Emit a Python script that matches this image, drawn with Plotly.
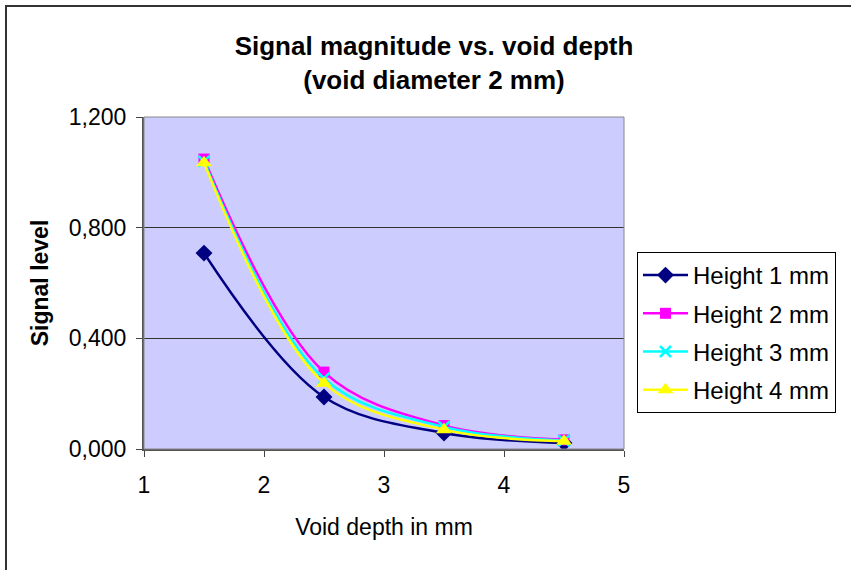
import plotly.graph_objects as go

depth = [1.5, 2.5, 3.5, 4.5]
h1 = [0.708, 0.188, 0.058, 0.022]
h2 = [1.048, 0.278, 0.085, 0.033]
h3 = [1.040, 0.255, 0.080, 0.030]
h4 = [1.035, 0.238, 0.070, 0.028]

series = [
    ("Height 1 mm", h1, "#000080", "diamond", 13),
    ("Height 2 mm", h2, "#ff00ff", "square", 11),
    ("Height 3 mm", h3, "#00ffff", "x-thin", 11),
    ("Height 4 mm", h4, "#ffff00", "triangle-up", 14),
]

fig = go.Figure()
for i, (name, vals, col, sym, sz) in enumerate(series):
    fig.add_trace(go.Scatter(
        x=depth, y=vals, name=name, mode="lines+markers", legendgroup=f"g{i}",
        line=dict(color=col, width=2.5, shape="spline", smoothing=1),
        marker=dict(symbol=sym, size=sz, color=col,
                    line=dict(color=col, width=2.5 if sym == "x-thin" else 0)),
    ))

L, R, T, B = 144, 624, 117, 449
W, H = 851, 570
pw, ph = R - L, B - T

def px(x):
    return (x - L) / pw

def py(y):
    return (B - y) / ph

fig.update_layout(
    width=W, height=H,
    margin=dict(l=L, r=W - R, t=T, b=H - B, pad=0),
    paper_bgcolor="white",
    plot_bgcolor="#ccccff",
    font=dict(family="Liberation Sans, Arial, sans-serif", size=23, color="black"),
    title=dict(
        text="<b>Signal magnitude vs. void depth<br>(void diameter 2 mm)</b>",
        x=434 / W, xanchor="center", y=1 - 55 / H, yanchor="middle",
        font=dict(size=26),
    ),
    xaxis=dict(
        range=[1, 5], tickvals=[1, 2, 3, 4, 5], ticks="outside", ticklen=6,
        tickcolor="#444", showgrid=False, zeroline=False,
        showline=True, linecolor="#555", linewidth=2, mirror=False,
        ticklabelstandoff=8,
        title=dict(text="Void depth in mm", standoff=22, font=dict(size=23)),
    ),
    yaxis=dict(
        range=[0, 1.2], tickvals=[0, 0.4, 0.8, 1.2],
        ticktext=["0,000", "0,400", "0,800", "1,200"],
        ticks="outside", ticklen=6, tickcolor="#444",
        showgrid=True, gridcolor="#333", gridwidth=1, zeroline=False,
        showline=True, linecolor="#555", linewidth=2,
        ticklabelstandoff=5,
        title=dict(text="<b>Signal level</b>", standoff=14, font=dict(size=23)),
    ),
    legend=dict(
        x=px(637), y=py(252), xanchor="left", yanchor="top",
        bordercolor="black", borderwidth=1, bgcolor="white",
        font=dict(size=24), tracegroupgap=4, itemwidth=45,
    ),
    showlegend=True,
)

fig.add_shape(type="rect", xref="paper", yref="paper", x0=0, y0=0, x1=1, y1=1,
              line=dict(color="#888", width=1), layer="above")
fig.add_shape(type="rect", xref="paper", yref="paper",
              x0=px(6), y0=py(600), x1=px(900), y1=py(6),
              line=dict(color="#333", width=2))

fig.write_html("out.html")
